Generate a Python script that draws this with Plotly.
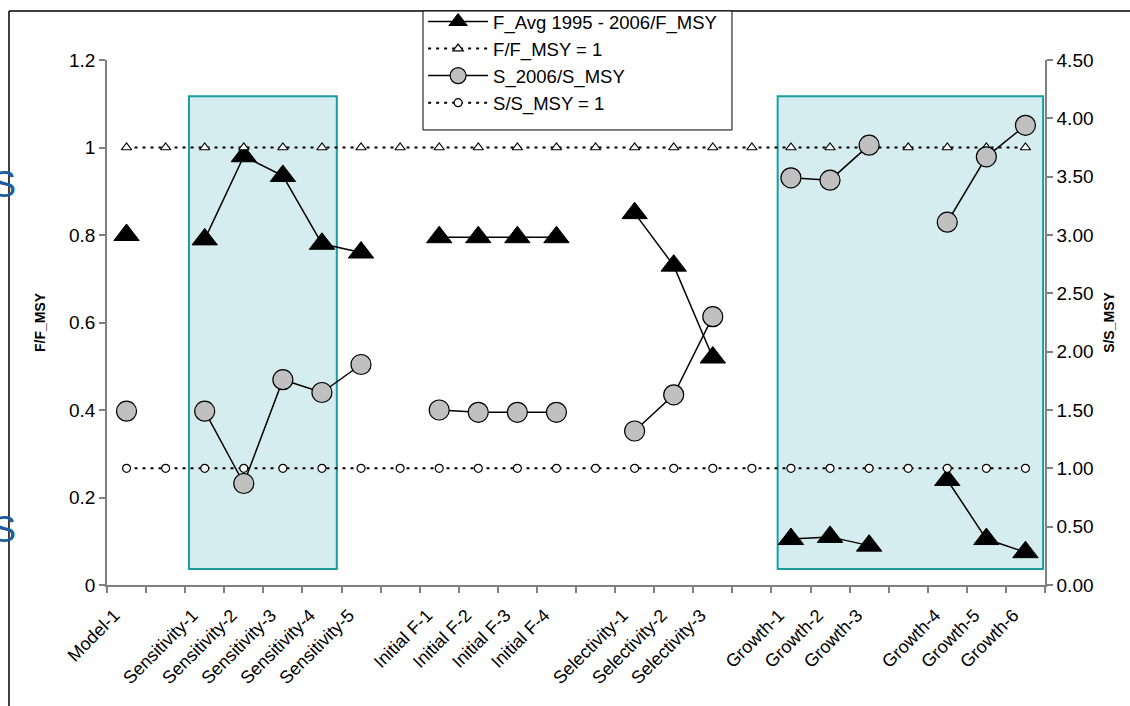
import plotly.graph_objects as go

categories = ["Model-1", "", "Sensitivity-1", "Sensitivity-2", "Sensitivity-3",
              "Sensitivity-4", "Sensitivity-5", "", "Initial F-1", "Initial F-2",
              "Initial F-3", "Initial F-4", "", "Selectivity-1", "Selectivity-2",
              "Selectivity-3", "", "Growth-1", "Growth-2", "Growth-3", "",
              "Growth-4", "Growth-5", "Growth-6"]

f_ratio = [0.80, None, 0.79, 0.98, 0.935, 0.78, 0.76, None, 0.795, 0.795, 0.795, 0.795,
           None, 0.85, 0.73, 0.52, None, 0.105, 0.11, 0.09, None, 0.24, 0.105, 0.075]
f_ref = [1, 1, 1, 1, 1, 1, 1, 1, 1, 1, 1, 1, 1, 1, 1, 1, 1, 1, 1, 1, 1, 1, 1, 1]
s_ratio = [1.49, None, 1.49, 0.87, 1.76, 1.65, 1.89, None, 1.50, 1.48, 1.48, 1.48,
           None, 1.32, 1.63, 2.30, None, 3.49, 3.47, 3.77, None, 3.11, 3.67, 3.94]
s_ref = [1, 1, 1, 1, 1, 1, 1, 1, 1, 1, 1, 1, 1, 1, 1, 1, 1, 1, 1, 1, 1, 1, 1, 1]

left_ticks = [0, 0.2, 0.4, 0.6, 0.8, 1.0, 1.2]
right_ticks = [0, 0.5, 1.0, 1.5, 2.0, 2.5, 3.0, 3.5, 4.0, 4.5]

xs = list(range(len(categories)))
label_pos = [i for i, c in enumerate(categories) if c]
label_txt = [c for c in categories if c]
bounds = [i - 0.5 for i in range(len(categories) + 1)]

FONT = "Arial, Liberation Sans, sans-serif"
AXC = "#808080"

fig = go.Figure()
fig.add_trace(go.Scatter(
    x=xs, y=f_ratio, name="F_Avg 1995 - 2006/F_MSY", mode="lines+markers",
    line=dict(color="black", width=1.5),
    marker=dict(symbol="triangle-up", size=22, color="black", line=dict(color="black", width=1)),
    yaxis="y"))
fig.add_trace(go.Scatter(
    x=xs, y=f_ref, name="F/F_MSY = 1", mode="lines+markers",
    line=dict(color="black", width=2, dash="3px,5px"),
    marker=dict(symbol="triangle-up", size=9, color="white", line=dict(color="black", width=1.2)),
    yaxis="y"))
fig.add_trace(go.Scatter(
    x=xs, y=s_ratio, name="S_2006/S_MSY", mode="lines+markers",
    line=dict(color="black", width=1.5),
    marker=dict(symbol="circle", size=20, color="#c0c0c0", line=dict(color="black", width=1.2)),
    yaxis="y2"))
fig.add_trace(go.Scatter(
    x=xs, y=s_ref, name="S/S_MSY = 1", mode="lines+markers",
    line=dict(color="black", width=2, dash="3px,5px"),
    marker=dict(symbol="circle", size=8, color="white", line=dict(color="black", width=1.2)),
    yaxis="y2"))

TEAL = "#1a9ca3"
FILL = "#d6edef"
shapes = []
for x0, x1 in [(0.0874, 0.245), (0.715, 0.998)]:
    shapes.append(dict(type="rect", xref="paper", yref="paper", x0=x0, x1=x1,
                       y0=0.0305, y1=0.931, line=dict(color=TEAL, width=2),
                       fillcolor=FILL, layer="below"))
# outer frame (top and left edges)
shapes.append(dict(type="line", xref="paper", yref="paper", x0=-0.1045, x1=1.1,
                   y0=1.0933, y1=1.0933, line=dict(color="black", width=1.5)))
shapes.append(dict(type="line", xref="paper", yref="paper", x0=-0.1045, x1=-0.1045,
                   y0=1.0933, y1=-0.25, line=dict(color="black", width=1.5)))
# legend box
shapes.append(dict(type="rect", xref="paper", yref="paper", x0=0.3369, x1=0.6663,
                   y0=0.8667, y1=1.0933, line=dict(color="black", width=1),
                   fillcolor="white", layer="above"))

annotations = []
for yy in [0.762, 0.105]:
    annotations.append(dict(text="S", xref="paper", yref="paper", x=-0.1095, y=yy,
                            xanchor="center", yanchor="middle", showarrow=False,
                            font=dict(family=FONT, size=36, color="#1f5d9c")))

fig.update_layout(
    width=1130, height=706,
    margin=dict(l=107, r=85, t=60, b=121, autoexpand=False),
    paper_bgcolor="white", plot_bgcolor="white",
    font=dict(family=FONT, color="black"),
    showlegend=True,
    legend=dict(x=0.337, y=1.1086, xanchor="left", yanchor="top",
                bgcolor="rgba(0,0,0,0)", borderwidth=0,
                font=dict(family=FONT, size=18.5), itemwidth=60,
                itemsizing="trace", tracegroupgap=0),
    shapes=shapes, annotations=annotations,
    xaxis=dict(range=[-0.5, len(categories) - 0.5], tickmode="array",
               tickvals=label_pos, ticktext=label_txt, tickangle=-45,
               ticks="", showgrid=False, zeroline=False, automargin=False,
               showline=True, linecolor=AXC, linewidth=1.5,
               tickfont=dict(family=FONT, size=18),
               ticklabelshift=-12, ticklabelstandoff=11,
               minor=dict(tickvals=bounds, ticks="outside", ticklen=6,
                          tickcolor=AXC, tickwidth=1.5, showgrid=False)),
    yaxis=dict(range=[0, 1.2], tickmode="array", tickvals=left_ticks,
               ticks="outside", ticklen=6, tickcolor=AXC, tickwidth=1.5,
               showline=True, linecolor=AXC, linewidth=1.5,
               showgrid=False, zeroline=False, automargin=False,
               tickfont=dict(family=FONT, size=19),
               title=dict(text="<b>F/F_MSY</b>", font=dict(family=FONT, size=14), standoff=20)),
    yaxis2=dict(range=[0, 4.5], overlaying="y", side="right", tickmode="array",
                tickvals=right_ticks, tickformat=".2f",
                ticks="outside", ticklen=6, tickcolor=AXC, tickwidth=1.5,
                showline=True, linecolor=AXC, linewidth=1.5,
                showgrid=False, zeroline=False, automargin=False,
                tickfont=dict(family=FONT, size=19),
                title=dict(text="<b>S/S_MSY</b>", font=dict(family=FONT, size=14), standoff=12)),
)

fig.write_html("out.html")
